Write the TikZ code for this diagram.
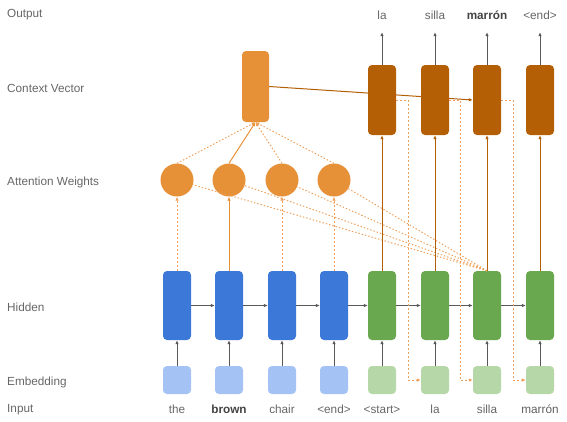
\documentclass[tikz,border=0pt]{standalone}
\usepackage{fontspec}
\setmainfont{Liberation Sans}
\usetikzlibrary{arrows.meta,backgrounds}
\definecolor{encblue}{HTML}{3C78D8}
\definecolor{embblue}{HTML}{A4C2F4}
\definecolor{decgreen}{HTML}{6AA84F}
\definecolor{embgreen}{HTML}{B6D7A8}
\definecolor{attorange}{HTML}{E69138}
\definecolor{decorange}{HTML}{B45F06}
\definecolor{lightorange}{HTML}{EEA05A}
\definecolor{labelgray}{HTML}{666666}
\definecolor{wordgray}{HTML}{434343}
\definecolor{arrowgray}{HTML}{595959}
\begin{document}
\begin{tikzpicture}[x=1bp,y=1bp]
    \tikzstyle{every node}+=[inner sep=0pt, font=\fontsize{11.8}{13}\selectfont, text=labelgray]
    \tikzstyle{lbl}=[anchor=west]
    \tikzstyle{word}=[text height=8.5bp, text depth=2.5bp]
    \tikzstyle{hid}=[rectangle, rounded corners=4bp, minimum width=28bp, minimum height=69bp]
    \tikzstyle{emb}=[rectangle, rounded corners=4bp, minimum width=28bp, minimum height=28bp]
    \tikzstyle{dec}=[rectangle, rounded corners=4bp, minimum width=28bp, minimum height=70bp, fill=decorange]
    \tikzstyle{weight}=[circle, minimum size=33bp, fill=attorange]
    \tikzstyle{ctxbox}=[rectangle, rounded corners=4bp, minimum width=27bp, minimum height=71bp, fill=attorange]
    \tikzstyle{grayarrow}=[arrowgray, line width=0.9bp, -{Latex[length=4bp,width=3.5bp]}]
    \tikzstyle{decarrow}=[decorange, line width=1bp, -{Latex[length=4bp,width=3.5bp]}]
    \tikzstyle{dashedarrow}=[lightorange, line width=1bp, dash pattern=on 2bp off 2bp, -{Latex[length=4bp,width=3.5bp]}]
    \tikzstyle{dotline}=[lightorange, line width=1bp, dash pattern=on 1.4bp off 2bp]
    \useasboundingbox (0,0) rectangle (567,-421);
    \node[lbl] (lout) at (7,-15) {Output};
    \node[lbl] (lctx) at (7,-88) {Context Vector};
    \node[lbl] (latt) at (7,-182) {Attention Weights};
    \node[lbl] (lhid) at (7,-307) {Hidden};
    \node[lbl] (lemb) at (7,-382) {Embedding};
    \node[lbl] (linp) at (7,-410) {Input};
    \node[word] (w1) at (177,-410) {the};
    \node[word, text=wordgray] (w2) at (229,-410) {\textbf{brown}};
    \node[word] (w3) at (282,-410) {chair};
    \node[word] (w4) at (334,-410) {<end>};
    \node[word] (w5) at (382,-410) {<start>};
    \node[word] (w6) at (435,-410) {la};
    \node[word] (w7) at (487,-410) {silla};
    \node[word, text=wordgray!85!white] (w8) at (540,-410) {marrón};
    \node[emb, fill=embblue] (e1) at (177,-380) {};
    \node[emb, fill=embblue] (e2) at (229,-380) {};
    \node[emb, fill=embblue] (e3) at (282,-380) {};
    \node[emb, fill=embblue] (e4) at (334,-380) {};
    \node[emb, fill=embgreen] (e5) at (382,-380) {};
    \node[emb, fill=embgreen] (e6) at (435,-380) {};
    \node[emb, fill=embgreen] (e7) at (487,-380) {};
    \node[emb, fill=embgreen] (e8) at (540,-380) {};
    \node[hid, fill=encblue] (h1) at (177,-305.5) {};
    \node[hid, fill=encblue] (h2) at (229,-305.5) {};
    \node[hid, fill=encblue] (h3) at (282,-305.5) {};
    \node[hid, fill=encblue] (h4) at (334,-305.5) {};
    \node[hid, fill=decgreen] (h5) at (382,-305.5) {};
    \node[hid, fill=decgreen] (h6) at (435,-305.5) {};
    \node[hid, fill=decgreen] (h7) at (487,-305.5) {};
    \node[hid, fill=decgreen] (h8) at (540,-305.5) {};
    \node[weight] (a1) at (177,-180) {};
    \node[weight] (a2) at (229,-180) {};
    \node[weight] (a3) at (282,-180) {};
    \node[weight] (a4) at (334,-180) {};
    \node[ctxbox] (ctx) at (255.5,-86.5) {};
    \node[dec] (d1) at (382,-100) {};
    \node[dec] (d2) at (435,-100) {};
    \node[dec] (d3) at (487,-100) {};
    \node[dec] (d4) at (540,-100) {};
    \node[word] (o1) at (382,-16) {la};
    \node[word] (o2) at (435,-16) {silla};
    \node[word, text=wordgray] (o3) at (487,-16) {\textbf{marrón}};
    \node[word] (o4) at (540,-16) {<end>};
    \draw[grayarrow] (e1) -- (h1);
    \draw[grayarrow] (e2) -- (h2);
    \draw[grayarrow] (e3) -- (h3);
    \draw[grayarrow] (e4) -- (h4);
    \draw[grayarrow] (e5) -- (h5);
    \draw[grayarrow] (e6) -- (h6);
    \draw[grayarrow] (e7) -- (h7);
    \draw[grayarrow] (e8) -- (h8);
    \draw[grayarrow] (h1) -- (h2);
    \draw[grayarrow] (h2) -- (h3);
    \draw[grayarrow] (h3) -- (h4);
    \draw[grayarrow] (h4) -- (h5);
    \draw[grayarrow] (h5) -- (h6);
    \draw[grayarrow] (h6) -- (h7);
    \draw[grayarrow] (h7) -- (h8);
    \draw[dashedarrow] (h1) -- (a1);
    \draw[attorange, line width=1bp, -{Latex[length=4bp,width=3.5bp]}] (h2) -- (a2);
    \draw[dashedarrow] (h3) -- (a3);
    \draw[dashedarrow] (h4) -- (a4);
    \draw[dotline] (h7.north) -- (a1);
    \draw[dotline] (h7.north) -- (a2);
    \draw[dotline] (h7.north) -- (a3);
    \draw[dotline] (h7.north) -- (a4);
    \draw[dotline, -{Latex[length=4bp,width=3.5bp]}] (a1.north) -- (ctx.south);
    \draw[attorange, line width=1bp, -{Latex[length=4bp,width=3.5bp]}] (a2.north) -- (ctx.south);
    \draw[dotline, -{Latex[length=4bp,width=3.5bp]}] (a3.north) -- (ctx.south);
    \draw[dotline, -{Latex[length=4bp,width=3.5bp]}] (a4.north) -- (ctx.south);
    \draw[decarrow] (h5) -- (d1);
    \draw[decarrow] (h6) -- (d2);
    \draw[decarrow] (h7) -- (d3);
    \draw[decarrow] (h8) -- (d4);
    \draw[grayarrow, shorten >=10.5bp] (d1) -- (o1);
    \draw[grayarrow, shorten >=10.5bp] (d2) -- (o2);
    \draw[grayarrow, shorten >=10.5bp] (d3) -- (o3);
    \draw[grayarrow, shorten >=10.5bp] (d4) -- (o4);
    \begin{scope}[on background layer]
    \draw[decarrow] (ctx.east) -- (d3.west);
    \end{scope}
    \draw[dashedarrow] (d1.east) -- ++(12,0) |- (e6.west);
    \draw[dashedarrow] (d2.east) -- ++(11,0) |- (e7.west);
    \draw[dashedarrow] (d3.east) -- ++(12,0) |- (e8.west);
\end{tikzpicture}
\end{document}
